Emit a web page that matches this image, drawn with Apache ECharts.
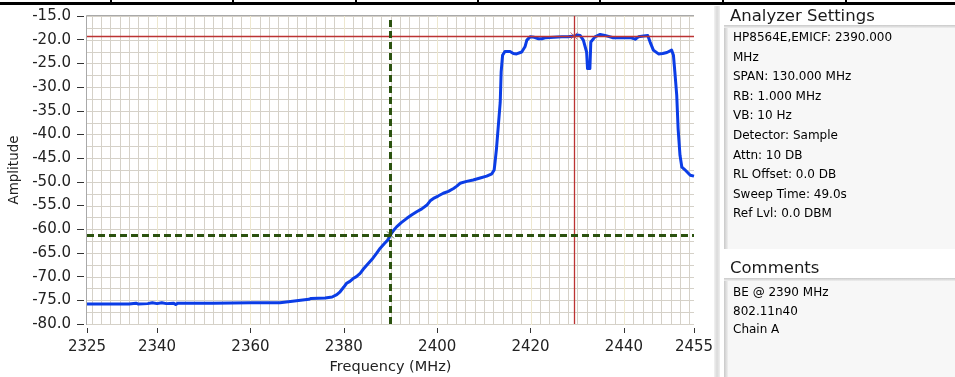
<!DOCTYPE html>
<html>
<head>
<meta charset="utf-8">
<script src="https://cdn.jsdelivr.net/npm/echarts@6/dist/echarts.min.js"></script>
<style>
  html, body { margin: 0; padding: 0; background: #ffffff; }
  #chart { width: 955px; height: 377px; }
</style>
</head>
<body>
<div id="chart"></div>
<script>
// Spectrum analyzer sweep, band edge at 2390 MHz
const freqMHz = [
  2325, 2334, 2335.5, 2336, 2338, 2339, 2340, 2341, 2342, 2343.5, 2344, 2344.5,
  2352, 2360, 2366.3, 2366.6, 2369, 2369.3, 2372.5, 2373, 2376, 2377.5, 2378.5,
  2379.2, 2380, 2380.6, 2381.3, 2382, 2382.7, 2383.5, 2384.2, 2384.9, 2386, 2387,
  2387.8, 2388.7, 2389.5, 2390, 2390.6, 2391.3, 2392.3, 2393.5, 2394.5, 2395.6,
  2396.7, 2397.8, 2398.5, 2399.2, 2400.2, 2401.3, 2402.4, 2403.5, 2404.2, 2404.9,
  2406.3, 2407.7, 2409.2, 2410.6, 2411.7, 2412.2, 2412.4, 2412.7, 2413.1, 2413.5,
  2413.7, 2414.0, 2414.5, 2415.6, 2416.3, 2417.0, 2418.1, 2418.8, 2419.2, 2419.9,
  2420.8, 2421.7, 2422.4, 2423.1, 2425, 2426.7, 2428, 2429.3, 2430.0, 2430.6,
  2431.3, 2432.0, 2432.2, 2432.7, 2432.9, 2433.8, 2434.9, 2435.9, 2437.7, 2439.5,
  2441.6, 2442.4, 2443.1, 2444.2, 2445.1, 2445.6, 2446.3, 2447.4, 2448.3, 2449.2,
  2450.2, 2450.6, 2450.9, 2451.3, 2451.6, 2452.0, 2452.4, 2453.0, 2453.4, 2454.2,
  2455
];
const amplitude = [
  -75.8, -75.8, -75.6, -75.8, -75.7, -75.5, -75.7, -75.5, -75.7, -75.6, -75.9, -75.6,
  -75.6, -75.5, -75.5, -75.2, -75.2, -74.9, -74.8, -74.6, -74.5, -74.3, -73.8,
  -73.2, -72.2, -71.4, -71.0, -70.4, -70.0, -69.3, -68.4, -67.6, -66.4, -65.1,
  -64.0, -63.0, -62.2, -61.2, -60.3, -59.5, -58.6, -57.7, -57.0, -56.3,
  -55.7, -54.9, -54.0, -53.5, -53.0, -52.4, -52.0, -51.4, -50.9, -50.3,
  -49.9, -49.6, -49.2, -48.8, -48.3, -47.5, -45.8, -43.0, -38.1, -33.2,
  -26.8, -23.3, -22.5, -22.5, -22.9, -23.0, -22.6, -21.5, -20.1, -19.4,
  -19.5, -19.8, -19.8, -19.6, -19.5, -19.4, -19.4, -19.2, -19.0, -19.1,
  -20.1, -22.6, -26.1, -26.1, -20.5, -19.4, -18.9, -19.1, -19.6, -19.6,
  -19.6, -19.9, -19.4, -19.2, -19.1, -20.5, -22.2, -23.0, -22.9, -22.7,
  -22.2, -23.3, -26.8, -31.7, -38.8, -44.4, -46.9, -47.4, -47.6, -48.6,
  -48.8
];

// Axis tick labels
const xTickValues = [2325, 2340, 2360, 2380, 2400, 2420, 2440, 2455];

// Cursors: band-edge cursor (green) and peak cursor (red)
const bandEdgeCursor = [2390, -61.2];
const peakCursor = [2429.3, -19.2];

// Side panel text
const settingsTitle = 'Analyzer Settings';
const settingsLines = [
  'HP8564E,EMICF: 2390.000',
  'MHz',
  'SPAN: 130.000 MHz',
  'RB: 1.000 MHz',
  'VB: 10 Hz',
  'Detector: Sample',
  'Attn: 10 DB',
  'RL Offset: 0.0 DB',
  'Sweep Time: 49.0s',
  'Ref Lvl: 0.0 DBM'
];
const commentsTitle = 'Comments';
const commentLines = ['BE @ 2390 MHz', '802.11n40', 'Chain A'];

const FONT = 'DejaVu Sans';
const X_MIN = 2325, X_MAX = 2455, Y_MIN = -80, Y_MAX = -15;

const chart = echarts.init(document.getElementById('chart'), null, { renderer: 'canvas' });

// Plot grid: gray lines every 2 MHz / 2.5 dB, cream lines on 20 MHz majors
function renderGrid(params, api) {
  const cs = params.coordSys;
  const children = [];
  const top = cs.y, bottom = cs.y + cs.height, left = cs.x, right = cs.x + cs.width;
  for (let v = Y_MIN; v <= Y_MAX + 1e-6; v += 2.5) {
    const y = Math.round(api.coord([X_MIN, v])[1]) + 0.5;
    children.push({ type: 'line', shape: { x1: left, y1: y, x2: right, y2: y },
      style: { stroke: '#d5d1c8', lineWidth: 1 } });
  }
  for (let v = 2326; v < X_MAX; v += 2) {
    const x = Math.round(api.coord([v, Y_MIN])[0]) + 0.5;
    const major = (v % 20) === 0;
    children.push({ type: 'line', shape: { x1: x, y1: top, x2: x, y2: bottom + 1 },
      style: { stroke: major ? '#eee8cf' : '#d5d1c8', lineWidth: 1 } });
  }
  // frame: top and left edges
  children.push({ type: 'line', shape: { x1: left - 0.5, y1: top - 0.5, x2: right, y2: top - 0.5 },
    style: { stroke: '#a9a9a9', lineWidth: 1 } });
  children.push({ type: 'line', shape: { x1: left - 0.5, y1: top - 0.5, x2: left - 0.5, y2: bottom + 1 },
    style: { stroke: '#a9a9a9', lineWidth: 1 } });
  return { type: 'group', children: children, silent: true };
}

const cursorX = 'path://M0,0L10,10M10,0L0,10';

const option = {
  animation: false,
  backgroundColor: '#ffffff',
  grid: { left: 87, right: 261, top: 16, bottom: 53, containLabel: false, outerBoundsMode: 'none' },
  xAxis: {
    type: 'value', min: X_MIN, max: X_MAX, offset: 4,
    name: 'Frequency (MHz)', nameLocation: 'middle', nameGap: 32,
    nameTextStyle: { fontFamily: FONT, fontSize: 14.5, color: '#222' },
    axisLine: { show: false },
    axisTick: { show: true, length: 5, customValues: xTickValues,
      lineStyle: { color: '#333', width: 1 } },
    axisLabel: { customValues: xTickValues, margin: 12, fontFamily: FONT, fontSize: 15,
      color: '#222', formatter: v => String(v) },
    splitLine: { show: false }
  },
  yAxis: {
    type: 'value', min: Y_MIN, max: Y_MAX, interval: 5, offset: 3,
    name: 'Amplitude', nameLocation: 'middle', nameGap: 60, nameRotate: 90,
    nameTextStyle: { fontFamily: FONT, fontSize: 13.5, color: '#222' },
    axisLine: { show: false },
    axisTick: { show: true, length: 7, lineStyle: { color: '#333', width: 1 } },
    axisLabel: { margin: 13, fontFamily: FONT, fontSize: 15, color: '#222',
      formatter: v => v.toFixed(1) },
    splitLine: { show: false }
  },
  series: [
    {
      type: 'custom', coordinateSystem: 'cartesian2d', silent: true, z: 1,
      renderItem: renderGrid, data: [[X_MIN, Y_MIN]]
    },
    {
      type: 'line', z: 3, silent: true,
      data: freqMHz.map((f, i) => [f, amplitude[i]]),
      showSymbol: false, symbol: 'none',
      lineStyle: { color: '#0b3de6', width: 3, join: 'round' },
      markLine: {
        silent: true, symbol: 'none', animation: false, label: { show: false },
        data: [
          { xAxis: peakCursor[0], lineStyle: { color: '#bb3333', width: 1.3, type: 'solid' } },
          { yAxis: peakCursor[1], lineStyle: { color: '#bb3333', width: 1.3, type: 'solid' } },
          { xAxis: bandEdgeCursor[0], lineStyle: { color: '#2b520f', width: 3, type: [7, 4] } },
          { yAxis: bandEdgeCursor[1], lineStyle: { color: '#2b520f', width: 3, type: [7, 4] } }
        ]
      }
    },
    {
      type: 'scatter', z: 4, silent: true,
      data: [peakCursor], symbol: cursorX, symbolSize: 7,
      itemStyle: { color: 'none', borderColor: '#c04040', borderWidth: 1 }
    },
    {
      type: 'scatter', z: 4, silent: true,
      data: [bandEdgeCursor], symbol: cursorX, symbolSize: 7,
      itemStyle: { color: 'none', borderColor: '#2b520f', borderWidth: 1 }
    }
  ],
  graphic: []
};

// Page frame: black rule and cell dividers along the top edge
const topCells = [110, 232, 355, 477, 599, 722, 845];
const g = [];
g.push({ type: 'rect', left: 0, top: 2, shape: { width: 955, height: 3 }, style: { fill: '#000' }, silent: true });
topCells.forEach(x => g.push({ type: 'rect', left: x, top: 0, shape: { width: 2, height: 3 },
  style: { fill: '#000' }, silent: true }));

// Divider between graph and side panel
g.push({ type: 'rect', left: 714, top: 6, shape: { width: 6, height: 371 },
  style: { fill: new echarts.graphic.LinearGradient(0, 0, 1, 0, [
    { offset: 0, color: '#f2f2f2' }, { offset: 0.5, color: '#dadada' }, { offset: 1, color: '#eeeeee' }]) },
  silent: true });

function panelBox(top, height) {
  return {
    type: 'group', left: 724, top: top, silent: true,
    children: [
      { type: 'rect', shape: { x: 0, y: 0, width: 231, height: height }, style: { fill: '#f7f7f7' } },
      { type: 'rect', shape: { x: 0, y: 0, width: 4, height: height },
        style: { fill: new echarts.graphic.LinearGradient(0, 0, 1, 0, [
          { offset: 0, color: '#c9c9c9' }, { offset: 1, color: '#efefef' }]) } },
      { type: 'rect', shape: { x: 0, y: 0, width: 231, height: 3 },
        style: { fill: new echarts.graphic.LinearGradient(0, 0, 0, 1, [
          { offset: 0, color: '#c9c9c9' }, { offset: 1, color: '#efefef' }]) } }
    ]
  };
}

g.push({ type: 'text', left: 730, top: 8, silent: true,
  style: { text: settingsTitle, fontFamily: FONT, fontSize: 16.5, fill: '#1a1a1a' } });
g.push(panelBox(25, 224));
g.push({ type: 'text', left: 733, top: 28, silent: true,
  style: { text: settingsLines.join('\n'), fontFamily: FONT, fontSize: 12, lineHeight: 19.6, fill: '#000' } });

g.push({ type: 'text', left: 730, top: 260, silent: true,
  style: { text: commentsTitle, fontFamily: FONT, fontSize: 16.5, fill: '#1a1a1a' } });
g.push(panelBox(278, 99));
g.push({ type: 'text', left: 733, top: 284, silent: true,
  style: { text: commentLines.join('\n'), fontFamily: FONT, fontSize: 12, lineHeight: 18.5, fill: '#000' } });

option.graphic = g;
chart.setOption(option);
</script>
</body>
</html>
